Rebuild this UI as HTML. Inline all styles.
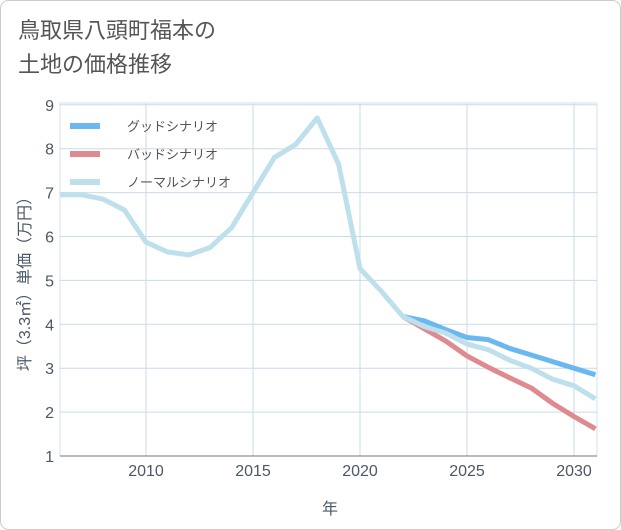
<!DOCTYPE html>
<html><head><meta charset="utf-8"><style>
body{margin:0;background:#fff;}
#wrap{position:relative;width:621px;height:530px;font-family:"Liberation Sans","Noto Sans CJK JP",sans-serif;}
#title{position:absolute;left:18px;top:14px;font-size:22px;line-height:34px;color:#555;}
</style></head><body>
<div id="wrap">
<div id="title">鳥取県八頭町福本の<br>土地の価格推移</div>
<svg id="svg" width="621" height="530" style="position:absolute;left:0;top:0"></svg>
</div>
<script>
const years=[2006,2007,2008,2009,2010,2011,2012,2013,2014,2015,2016,2017,2018,2019,2020,2021,2022,2023,2024,2025,2026,2027,2028,2029,2030,2031];
const normal=[6.95,6.95,6.85,6.6,5.87,5.65,5.58,5.75,6.2,7.0,7.8,8.1,8.7,7.65,5.27,4.75,4.18,3.95,3.8,3.55,3.42,3.18,3.0,2.75,2.6,2.3];
const goodYears=[2022,2023,2024,2025,2026,2027,2028,2029,2030,2031];
const good=[4.18,4.08,3.88,3.7,3.65,3.45,3.3,3.15,3.0,2.85];
const bad=[4.18,3.9,3.62,3.28,3.02,2.78,2.55,2.2,1.9,1.62];
const xTicks=[2010,2015,2020,2025,2030];
const yTicks=[1,2,3,4,5,6,7,8,9];
const NS="http://www.w3.org/2000/svg";
const svg=document.getElementById('svg');
const L=60,R=597,T=103,B=456;
const x=v=>146+(v-2010)*21.4;
const y=v=>456-(v-1)*43.9;
function mk(t,a){const e=document.createElementNS(NS,t);for(const k in a)e.setAttribute(k,a[k]);svg.appendChild(e);return e;}
mk('rect',{x:0.5,y:0.5,width:620,height:529,rx:8,fill:'none',stroke:'#ccc'});
mk('rect',{x:L,y:T,width:R-L,height:B-T,fill:'none',stroke:'#d5e3ee'});
xTicks.forEach(v=>{
 const g=mk('line',{x1:x(v),x2:x(v),y1:T,y2:B,stroke:'#c9dbe8','stroke-width':1});
 
 const t=mk('text',{x:x(v),y:476,'text-anchor':'middle','font-size':16,fill:'#4a5868'});t.textContent=v;
 
});
yTicks.forEach(v=>{
 const g=mk('line',{x1:L,x2:R,y1:y(v),y2:y(v),stroke:'#c9dbe8'});
 
 const t=mk('text',{x:L-6,y:y(v)+6,'text-anchor':'end','font-size':16,fill:'#4a5868'});t.textContent=v;
 
});
mk('line',{x1:L,x2:R,y1:B,y2:B,stroke:'#777'});
const xt=mk('text',{x:330,y:514,'text-anchor':'middle','font-size':16,fill:'#4a5868'});xt.textContent='年';

const yt=mk('text',{x:0,y:0,'text-anchor':'middle','font-size':16,fill:'#4a5868',transform:'translate(30,280) rotate(-90)'});yt.textContent='坪（3.3㎡）単価（万円）';

const defs=mk('defs',{});
const cp=document.createElementNS(NS,'clipPath');cp.setAttribute('id','c');defs.appendChild(cp);
const cr=document.createElementNS(NS,'rect');cr.setAttribute('x',L);cr.setAttribute('y',T);cr.setAttribute('width',R-L);cr.setAttribute('height',B-T);cp.appendChild(cr);
function line(xs,ys,color,name){
 const p=mk('polyline',{points:xs.map((v,i)=>x(v)+','+y(ys[i])).join(' '),fill:'none',stroke:color,'stroke-width':5,'stroke-linejoin':'round','clip-path':'url(#c)'});
 
}
line(goodYears,good,'#6bb8f0','good-scenario-line');
line(goodYears,bad,'#de8a8f','bad-scenario-line');
line(years,normal,'#bde0ec','normal-scenario-line');
const leg=[['グッドシナリオ','#6bb8f0'],['バッドシナリオ','#de8a8f'],['ノーマルシナリオ','#bde0ec']];
leg.forEach((d,i)=>{
 const yy=126+i*28;
 const r=mk('rect',{x:70,y:yy-3,width:30,height:6,fill:d[1]});
 
 const t=mk('text',{x:127,y:yy+5,'font-size':13,fill:'#555'});t.textContent=d[0];
 
});
</script>
</body></html>
